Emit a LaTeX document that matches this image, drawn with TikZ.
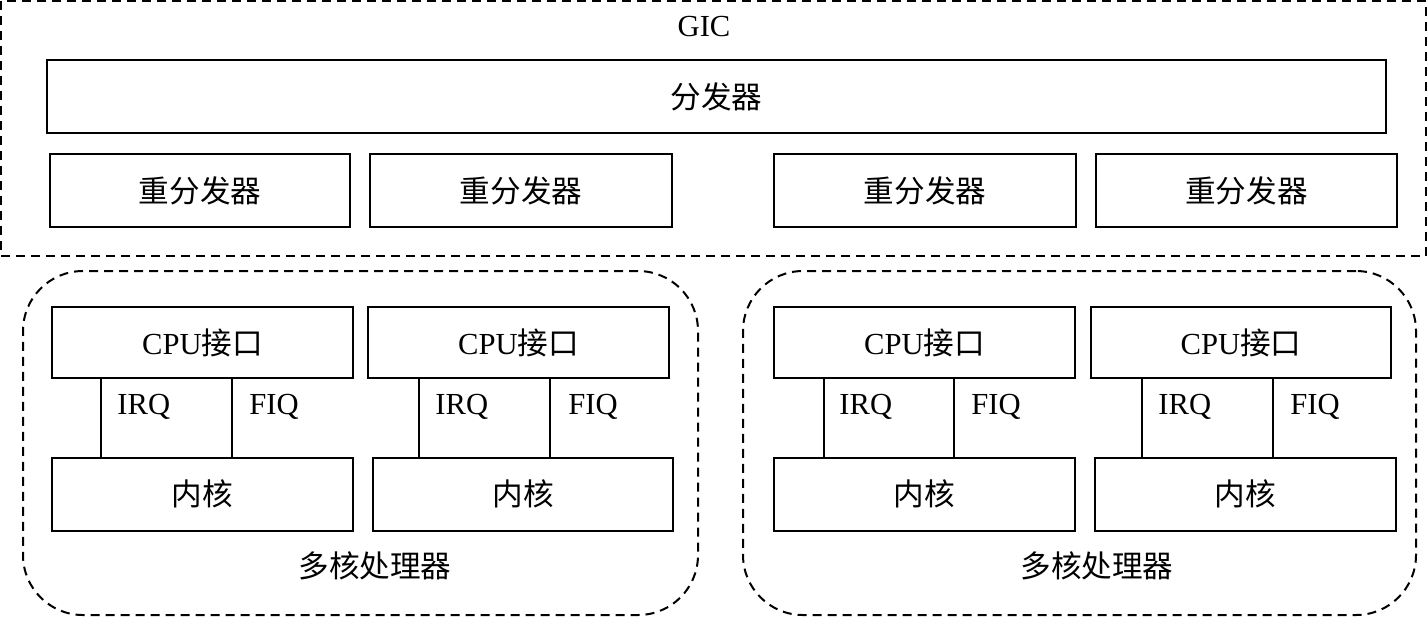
\documentclass[tikz,border=0pt]{standalone}
\usepackage{fontspec}
\setmainfont{Liberation Serif}
\newfontfamily\cjk{Noto Sans CJK SC}
\begin{document}
\begin{tikzpicture}[x=0.5pt,y=-0.5pt,
  box/.style={draw,line width=1pt,inner sep=0pt,outer sep=0pt,minimum height=36.5pt,font=\fontsize{15.3}{17}\selectfont},
  gicbox/.style={draw,line width=1pt,dash pattern=on 4.5pt off 3pt,inner sep=0pt,outer sep=0pt},
  grp/.style={gicbox,rounded corners=30pt},
  lbl/.style={inner sep=0pt,font=\fontsize{15.3}{17}\selectfont},
  sig/.style={line width=1pt}]
\useasboundingbox (0,0) rectangle (1428,617);
% GIC
\node[gicbox,minimum width=712.5pt,minimum height=127.5pt] (gic) at (713.5,128.5) {};
\node[lbl] (gict) at (704,27) {GIC};
\node[box,minimum width=669.5pt] (dist) at (716.5,96.5) {\cjk 分发器};
\node[box,minimum width=150pt] (r1) at (200,190.5) {\cjk 重分发器};
\node[box,minimum width=151pt] (r2) at (521,190.5) {\cjk 重分发器};
\node[box,minimum width=151pt] (r3) at (925,190.5) {\cjk 重分发器};
\node[box,minimum width=150.5pt] (r4) at (1246.5,190.5) {\cjk 重分发器};
% processor groups
\node[grp,minimum width=337.5pt,minimum height=172pt] (g1) at (360.5,443) {};
\node[grp,minimum width=336.5pt,minimum height=172pt] (g2) at (1079.5,443) {};
\node[lbl] (g1t) at (375,566) {\cjk 多核处理器};
\node[lbl] (g2t) at (1097,566) {\cjk 多核处理器};
% CPU interfaces
\node[box,minimum width=150.5pt,minimum height=35.5pt] (c1) at (202.5,342.5) {CPU{\cjk 接口}};
\node[box,minimum width=150.5pt,minimum height=35.5pt] (c2) at (518.5,342.5) {CPU{\cjk 接口}};
\node[box,minimum width=150.5pt,minimum height=35.5pt] (c3) at (924.5,342.5) {CPU{\cjk 接口}};
\node[box,minimum width=150pt,minimum height=35.5pt] (c4) at (1241,342.5) {CPU{\cjk 接口}};
% cores
\node[box,minimum width=150.5pt] (k1) at (202.5,494) {\cjk 内核};
\node[box,minimum width=150pt] (k2) at (523,494) {\cjk 内核};
\node[box,minimum width=150.5pt] (k3) at (924.5,494) {\cjk 内核};
\node[box,minimum width=150.5pt] (k4) at (1245.5,494) {\cjk 内核};
% IRQ / FIQ lines
\foreach \c/\k/\a/\b in {c1/k1/49/180, c2/k2/51/182, c3/k3/50/180, c4/k4/51/182}{
  \draw[sig] ([xshift=\a*0.5pt]\c.south west) -- ([xshift=\a*0.5pt]\c.south west |- \k.north);
  \draw[sig] ([xshift=\b*0.5pt]\c.south west) -- ([xshift=\b*0.5pt]\c.south west |- \k.north);
}
\node[lbl,anchor=west] (i1) at (117,407) {IRQ};
\node[lbl,anchor=west] (f1) at (249,407) {FIQ};
\node[lbl,anchor=west] (i2) at (435,407) {IRQ};
\node[lbl,anchor=west] (f2) at (568,407) {FIQ};
\node[lbl,anchor=west] (i3) at (839,407) {IRQ};
\node[lbl,anchor=west] (f3) at (971,407) {FIQ};
\node[lbl,anchor=west] (i4) at (1158,407) {IRQ};
\node[lbl,anchor=west] (f4) at (1290,407) {FIQ};
\end{tikzpicture}
\end{document}
